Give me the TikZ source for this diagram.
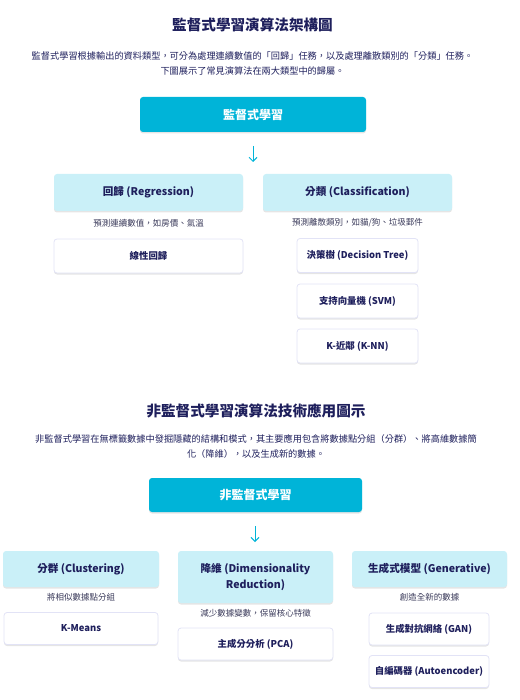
\documentclass[tikz,border=0pt]{standalone}
\usepackage{fontspec}
\setmainfont{Noto Sans CJK TC}
\usetikzlibrary{arrows.meta,shadows}
\definecolor{navy}{HTML}{1E1F5C}
\definecolor{cyanmain}{HTML}{00B4D8}
\definecolor{lightcat}{HTML}{CAF0F8}
\definecolor{lineborder}{HTML}{E2E3F6}
\definecolor{subgray}{HTML}{3A3A5A}
\begin{document}
\begin{tikzpicture}[x=1pt,y=-1pt,
 inner sep=0pt,
 softshadow/.style={drop shadow={shadow xshift=0pt, shadow yshift=-1.5pt, fill=black, opacity=0.10}},
 title/.style={font=\fontsize{14.6}{18}\selectfont\bfseries, text=navy},
 para/.style={font=\fontsize{9.2}{15}\selectfont, text=navy, align=center},
 mainbox/.style={fill=cyanmain, rounded corners=3pt, text=white, font=\fontsize{12}{14}\selectfont\bfseries, softshadow},
 catbox/.style={fill=lightcat, rounded corners=3pt, text=navy, font=\fontsize{10.6}{15.5}\selectfont\bfseries, align=center, softshadow},
 itembox/.style={fill=white, draw=lineborder, line width=0.8pt, rounded corners=3pt, text=navy, font=\fontsize{9.4}{12}\selectfont\bfseries, softshadow},
 note/.style={font=\fontsize{8.5}{10}\selectfont, text=subgray},
 flow/.style={draw=cyanmain, line width=1pt, -{Straight Barb[length=4pt,width=8pt]}}
]
\path[use as bounding box] (0,0) rectangle (519,700);

% ---------- Supervised ----------
\node[title] (t1) at (252.5,25) {監督式學習演算法架構圖};
\node[para] (p1) at (252.5,63.5) {監督式學習根據輸出的資料類型，可分為處理連續數值的「回歸」任務，以及處理離散類別的「分類」任務。\\下圖展示了常見演算法在兩大類型中的歸屬。};

\node[mainbox, minimum width=226pt, minimum height=35pt] (sup) at (253,114.5) {監督式學習};
\coordinate (a1s) at (253,146);
\coordinate (a1e) at (253,162);
\draw[flow] (a1s) -- (a1e);

\node[catbox, minimum width=189pt, minimum height=37pt] (reg) at (148.5,192.5) {回歸 (Regression)};
\node[catbox, minimum width=189pt, minimum height=37pt] (cls) at (357.5,192.5) {分類 (Classification)};
\node[note] (regnote) at (148.5,223) {預測連續數值，如房價、氣溫};
\node[note] (clsnote) at (357.5,223) {預測離散類別，如貓/狗、垃圾郵件};

\node[itembox, minimum width=189pt, minimum height=34pt] (lin) at (148.5,256) {線性回歸};
\node[itembox, minimum width=121pt, minimum height=34pt] (dt) at (357.5,255.5) {決策樹 (Decision Tree)};
\node[itembox, minimum width=121pt, minimum height=34pt] (svm) at (357.5,301) {支持向量機 (SVM)};
\node[itembox, minimum width=121pt, minimum height=34pt] (knn) at (357.5,346) {K-近鄰 (K-NN)};

% ---------- Unsupervised ----------
\node[title] (t2) at (256,411) {非監督式學習演算法技術應用圖示};
\node[para] (p2) at (256,446.5) {非監督式學習在無標籤數據中發掘隱藏的結構和模式，其主要應用包含將數據點分組（分群）、將高維數據簡\\化（降維），以及生成新的數據。};

\node[mainbox, minimum width=213pt, minimum height=34pt] (uns) at (255.5,495) {非監督式學習};
\coordinate (a2s) at (255,526);
\coordinate (a2e) at (255,542);
\draw[flow] (a2s) -- (a2e);

\node[catbox, minimum width=156pt, minimum height=36pt] (clu) at (81,569) {分群 (Clustering)};
\node[catbox, minimum width=155pt, minimum height=52pt] (dim) at (255.5,577) {降維 (Dimensionality\\Reduction)};
\node[catbox, minimum width=155pt, minimum height=36pt] (gen) at (429.5,569) {生成式模型 (Generative)};

\node[note] (clunote) at (81,597) {將相似數據點分組};
\node[note] (dimnote) at (255.5,613) {減少數據變數，保留核心特徵};
\node[note] (gennote) at (429.5,597) {創造全新的數據};

\node[itembox, minimum width=154pt, minimum height=32pt] (km) at (81,628.5) {K-Means};
\node[itembox, minimum width=155pt, minimum height=32pt] (pca) at (255.5,644) {主成分分析 (PCA)};
\node[itembox, minimum width=120pt, minimum height=32pt] (gan) at (429,629) {生成對抗網絡 (GAN)};
\node[itembox, minimum width=120pt, minimum height=32pt] (ae) at (429,671.5) {自編碼器 (Autoencoder)};
\end{tikzpicture}
\end{document}
